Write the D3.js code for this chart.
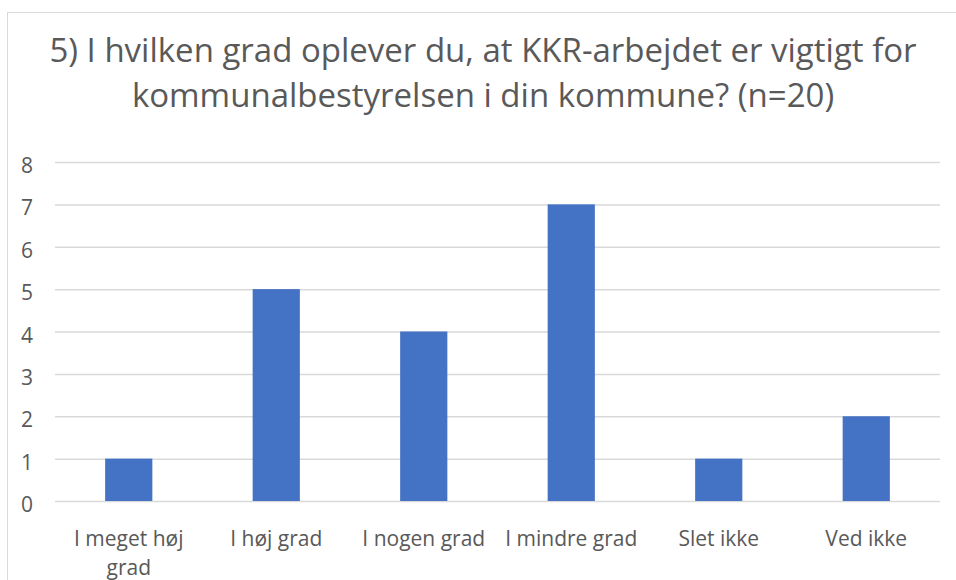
<!DOCTYPE html>
<html>
<head>
<meta charset="utf-8">
<script src="https://cdn.jsdelivr.net/npm/d3@7"></script>
<style>
  body { margin: 0; background: #fff; }
  text { font-family: "Open Sans", "Liberation Sans", sans-serif; fill: #595959; }
</style>
</head>
<body>
<div id="chart"></div>
<script>
const categories = [["I meget høj", "grad"], ["I høj grad"], ["I nogen grad"], ["I mindre grad"], ["Slet ikke"], ["Ved ikke"]];
const values = [1, 5, 4, 7, 1, 2];
const yTicks = [0, 1, 2, 3, 4, 5, 6, 7, 8];
const titleLines = ["5) I hvilken grad oplever du, at KKR-arbejdet er vigtigt for", "kommunalbestyrelsen i din kommune? (n=20)"];

const W = 956, H = 580;
const margin = { top: 162, right: 16, bottom: 79, left: 55 };
const width = W - margin.left - margin.right;
const height = H - margin.top - margin.bottom;

const svg = d3.select('#chart').append('svg').attr('width', W).attr('height', H);

// chart frame
svg.append('rect')
  .attr('x', 7.5).attr('y', 12.5)
  .attr('width', W + 10).attr('height', H + 10)
  .attr('fill', 'none').attr('stroke', '#d9d9d9').attr('stroke-width', 1);

// title
svg.append('g').selectAll('text').data(titleLines).join('text')
  .attr('x', 483).attr('y', (d, i) => 62 + i * 45)
  .attr('text-anchor', 'middle')
  .style('font-size', '33px')
  .text(d => d);

const g = svg.append('g').attr('transform', `translate(${margin.left},${margin.top})`);

const x = d3.scaleBand().domain(d3.range(categories.length)).range([0, width]);
const y = d3.scaleLinear().domain([0, 8]).range([height, 0]);

// grid lines
g.append('g')
  .call(d3.axisLeft(y).tickValues(yTicks).tickSize(-width).tickFormat(''))
  .call(a => a.select('.domain').remove())
  .call(a => a.selectAll('line').attr('stroke', '#d9d9d9').attr('stroke-width', 1.5));

// y labels
g.append('g')
  .call(d3.axisLeft(y).tickValues(yTicks).tickSize(0).tickPadding(22))
  .call(a => a.select('.domain').remove())
  .call(a => a.selectAll('text').style('font-size', '21px').attr('fill', '#595959').attr('dy', '0.5em'));

// bars
const bw = x.bandwidth() * 0.32;
g.selectAll('rect.bar').data(values).join('rect')
  .attr('class', 'bar')
  .attr('x', (d, i) => x(i) + (x.bandwidth() - bw) / 2)
  .attr('y', d => y(d))
  .attr('width', bw)
  .attr('height', d => y(0) - y(d))
  .attr('fill', '#4472c4');

// x labels
const xl = g.append('g').selectAll('text').data(categories).join('text')
  .attr('x', (d, i) => x(i) + x.bandwidth() / 2)
  .attr('y', height + 45)
  .attr('text-anchor', 'middle')
  .style('font-size', '21px');
xl.selectAll('tspan').data(d => d).join('tspan')
  .attr('x', function () { return d3.select(this.parentNode).attr('x'); })
  .attr('dy', (d, i) => i === 0 ? 0 : 29)
  .text(d => d);
</script>
</body>
</html>
